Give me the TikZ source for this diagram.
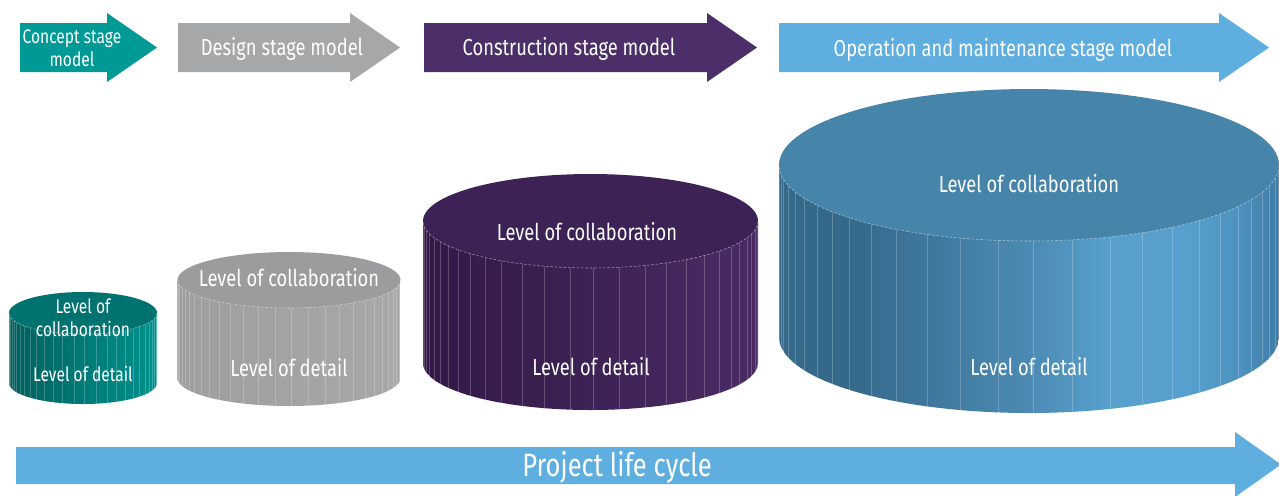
\documentclass[tikz,border=0pt]{standalone}
\usepackage{fontspec}
\setmainfont[FakeStretch=0.79]{Fira Sans}
\definecolor{cTeal}{HTML}{009A96}
\definecolor{cGray}{HTML}{A6A7A9}
\definecolor{cPurple}{HTML}{4C2F68}
\definecolor{cBlue}{HTML}{5EAEDF}
\definecolor{tealTop}{HTML}{00726F}
\definecolor{tealL}{HTML}{005E5B}
\definecolor{tealM}{HTML}{007A77}
\definecolor{tealR}{HTML}{00928E}
\definecolor{grayTop}{HTML}{9C9C9E}
\definecolor{grayL}{HTML}{9E9EA0}
\definecolor{grayM}{HTML}{A3A3A5}
\definecolor{grayR}{HTML}{A8A8AA}
\definecolor{purTop}{HTML}{3D2355}
\definecolor{purL}{HTML}{321847}
\definecolor{purM}{HTML}{3D2255}
\definecolor{purR}{HTML}{482A62}
\definecolor{bluTop}{HTML}{4784A9}
\definecolor{bluL}{HTML}{35698A}
\definecolor{bluM}{HTML}{4C8AB3}
\definecolor{bluH}{HTML}{57A0CD}
\definecolor{bluR}{HTML}{4D92BF}
\definecolor{bluE}{HTML}{3F7CA3}
\pgfdeclarehorizontalshading{tealside}{100bp}{color(0bp)=(tealL); color(25bp)=(tealL); color(50bp)=(tealM); color(75bp)=(tealR); color(100bp)=(tealR)}
\pgfdeclarehorizontalshading{grayside}{100bp}{color(0bp)=(grayL); color(25bp)=(grayL); color(50bp)=(grayM); color(75bp)=(grayR); color(100bp)=(grayR)}
\pgfdeclarehorizontalshading{purside}{100bp}{color(0bp)=(purL); color(25bp)=(purL); color(50bp)=(purM); color(70bp)=(purR); color(75bp)=(purR); color(100bp)=(purR)}
\pgfdeclarehorizontalshading{bluside}{100bp}{color(0bp)=(bluL); color(25bp)=(bluL); color(32bp)=(bluL); color(50bp)=(bluM); color(58bp)=(bluH); color(66bp)=(bluH); color(71bp)=(bluR); color(75bp)=(bluE); color(100bp)=(bluE)}
\tikzset{
  lbl/.style={text=white, inner sep=0pt, align=center, font=\fontsize{13.2}{15}\selectfont},
  smalllbl/.style={text=white, inner sep=0pt, align=center, font=\fontsize{11.2}{13.2}\selectfont},
  biglbl/.style={text=white, inner sep=0pt, align=center, font=\fontsize{18.4}{20}\selectfont},
  stripe/.style={white, opacity=0.22, line width=0.3pt},
  rimline/.style={white, opacity=0.55, line width=0.3pt, dash pattern=on 1.5pt off 1pt}
}
% cylinder: #1 shading, #2 top colour, #3 cx, #4 rx, #5 top cy, #6 bottom cy, #7 ry
\newcommand\drawcyl[7]{%
  \shade[shading=#1] (#3-#4,#5) -- (#3-#4,#6)
    -- plot[domain=180:0, samples=90] ({#3+#4*cos(\x)},{#6+#7*sin(\x)})
    -- (#3+#4,#5) -- cycle;
  \foreach \t in {5,10,16,21,27,33,40,47,55,63,71,80,89,97,106,114,122,129,136,142,148,154,159,164,169,173,177}
    \draw[stripe] ({#3+#4*cos(\t)},{#5+#7*sin(\t)}) -- ({#3+#4*cos(\t)},{#6+#7*sin(\t)});
  \fill[#2] plot[domain=0:360, samples=120] ({#3+#4*cos(\x)},{#5+#7*sin(\x)}) -- cycle;
  \draw[rimline] plot[domain=0:180, samples=90] ({#3+#4*cos(\x)},{#5+#7*sin(\x)});
}
\begin{document}
\begin{tikzpicture}[x=0.02cm, y=-0.02cm]
\path[use as bounding box] (0,0) rectangle (1279,495);
\clip (0,0) rectangle (1279,495);
\fill[white] (0,0) rectangle (1279,495);
% top stage arrows
\fill[cTeal] (20,23) -- (107,23) -- (107,13) -- (157,47.5) -- (107,82) -- (107,72) -- (20,72) -- cycle;
\fill[cGray] (178,23) -- (350,23) -- (350,13) -- (400,47.5) -- (350,82) -- (350,72) -- (178,72) -- cycle;
\fill[cPurple] (424,23) -- (707,23) -- (707,13) -- (757,47.5) -- (707,82) -- (707,72) -- (424,72) -- cycle;
\fill[cBlue] (779,23) -- (1219,23) -- (1219,13) -- (1269,47.5) -- (1219,82) -- (1219,72) -- (779,72) -- cycle;
\node[smalllbl, font=\fontsize{11.2}{13}\selectfont] (concept) at (72,48) {Concept stage\\model};
\node[lbl] (design) at (282,49) {Design stage model};
\node[lbl] (construction) at (569,49) {Construction stage model};
\node[lbl] (operation) at (1003,50) {Operation and maintenance stage model};
% cylinders
\drawcyl{tealside}{tealTop}{83}{74}{313}{383}{21}
\drawcyl{grayside}{grayTop}{289}{111.5}{280}{378}{28}
\drawcyl{purside}{purTop}{590.5}{167.5}{221}{363}{47}
\drawcyl{bluside}{bluTop}{1029}{250}{165}{337}{76}
\node[smalllbl] (tealcollab) at (83,318) {Level of\\collaboration};
\node[smalllbl] (tealdetail) at (83,374) {Level of detail};
\node[lbl] (graycollab) at (289,278) {Level of collaboration};
\node[lbl] (graydetail) at (289,368) {Level of detail};
\node[lbl] (purcollab) at (587,232) {Level of collaboration};
\node[lbl] (purdetail) at (591,367) {Level of detail};
\node[lbl] (blucollab) at (1029,184) {Level of collaboration};
\node[lbl] (bludetail) at (1029,367) {Level of detail};
% project life cycle arrow
\fill[cBlue] (16,447) -- (1235,447) -- (1235,432) -- (1281,464.5) -- (1235,497) -- (1235,484) -- (16,484) -- cycle;
\node[biglbl] (lifecycle) at (617,467) {Project life cycle};
\end{tikzpicture}
\end{document}
